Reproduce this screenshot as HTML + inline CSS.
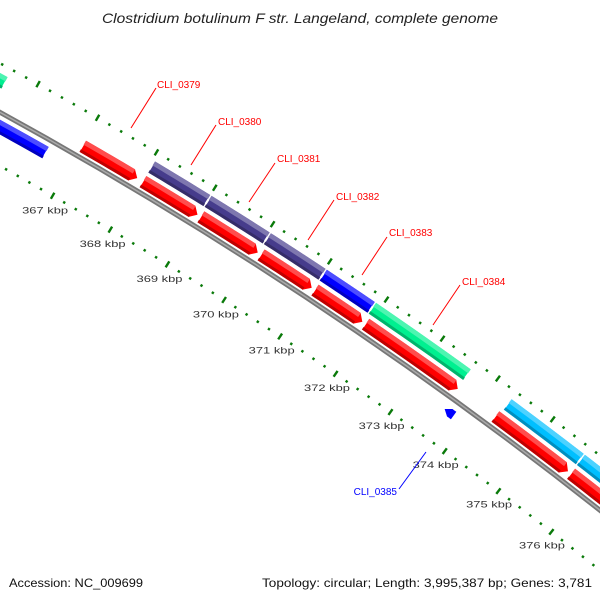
<!DOCTYPE html>
<html><head><meta charset="utf-8"><style>
html,body{margin:0;padding:0;background:#fff;width:600px;height:600px;overflow:hidden}
svg{display:block}
text{font-family:"Liberation Sans","DejaVu Sans",sans-serif}
</style></head><body>
<svg id="map" width="600" height="600" viewBox="0 0 600 600" xmlns="http://www.w3.org/2000/svg">
<rect width="600" height="600" fill="#fff"/>
<g id="rings"></g>
<text x="102" y="23" font-size="14" font-style="italic" fill="#222" textLength="396" lengthAdjust="spacingAndGlyphs">Clostridium botulinum F str. Langeland, complete genome</text>
<text x="9" y="587" font-size="12" fill="#111" textLength="134" lengthAdjust="spacingAndGlyphs">Accession: NC_009699</text>
<text x="262" y="587" font-size="12" fill="#111" textLength="330" lengthAdjust="spacingAndGlyphs">Topology: circular; Length: 3,995,387 bp; Genes: 3,781</text>
<g>
<line x1="131" y1="128" x2="156" y2="88" stroke="#f00" stroke-width="1"/>
<text x="157" y="88" font-size="10" fill="#f00">CLI_0379</text>
<line x1="191" y1="165" x2="216" y2="125" stroke="#f00" stroke-width="1"/>
<text x="218" y="125" font-size="10" fill="#f00">CLI_0380</text>
<line x1="249" y1="202" x2="275" y2="163" stroke="#f00" stroke-width="1"/>
<text x="277" y="162" font-size="10" fill="#f00">CLI_0381</text>
<line x1="308" y1="240" x2="334" y2="200" stroke="#f00" stroke-width="1"/>
<text x="336" y="200" font-size="10" fill="#f00">CLI_0382</text>
<line x1="362" y1="275" x2="387" y2="237" stroke="#f00" stroke-width="1"/>
<text x="389" y="236" font-size="10" fill="#f00">CLI_0383</text>
<line x1="433" y1="325" x2="460" y2="285" stroke="#f00" stroke-width="1"/>
<text x="462" y="285" font-size="10" fill="#f00">CLI_0384</text>
<line x1="426" y1="452" x2="399" y2="489" stroke="#00f" stroke-width="1"/>
<text x="397" y="495" text-anchor="end" font-size="10" fill="#00f">CLI_0385</text>
</g>
</svg>
<script>
// gene data (kbp)
const geneStarts = [365.0, 367.02, 368.05, 369.05, 370.1, 371.05, 371.95, 374.3, 375.7, 364.0, 368.05, 369.02, 370.05, 371.03, 371.9, 374.34, 375.69, 373.62];
const geneEnds   = [366.59, 367.96, 369.0, 370.05, 371.0, 371.9, 373.62, 375.65, 377.5, 365.56, 369.0, 370.03, 371.01, 371.88, 373.6, 375.67, 377.5, 373.8];
const geneRings  = [-1, 1, 1, 1, 1, 1, 1, 1, 1, 2, 2, 2, 2, 2, 2, 2, 2, -1];
const geneStrand = [-1, 1, 1, 1, 1, 1, 1, 1, 1, 0, 0, 0, 0, 0, 0, 0, 0, -1];
const geneColors = ["#0000ff","#ff0000","#ff0000","#ff0000","#ff0000","#ff0000","#ff0000","#ff0000","#ff0000","#00ee90","#463c8c","#463c8c","#463c8c","#0000ff","#00f090","#00bfff","#00bfff","#0000ff"];
const tickLabels = ["367 kbp","368 kbp","369 kbp","370 kbp","371 kbp","372 kbp","373 kbp","374 kbp","375 kbp","376 kbp"];
const tickLabelKbp = [367,368,369,370,371,372,373,374,375,376];

const NS="http://www.w3.org/2000/svg";
const CX=-2082, CY=3902, R=4324, A0=-60.06, DEG=0.896;
function ang(k){return (A0+(k-367)*DEG)*Math.PI/180;}
function pt(k,r){const a=ang(k);return [CX+r*Math.cos(a), CY+r*Math.sin(a)];}
const g=document.getElementById('rings');
function mk(tag,attrs){const e=document.createElementNS(NS,tag);for(const k in attrs)e.setAttribute(k,attrs[k]);g.appendChild(e);return e;}
function arcPath(k0,k1,r){let s="";const n=20;for(let i=0;i<=n;i++){const p=pt(k0+(k1-k0)*i/n,r);s+=(i?"L":"M")+p[0].toFixed(2)+" "+p[1].toFixed(2);}return s;}

// backbone
let bb=mk('path',{d:arcPath(362,380,R),fill:'none',stroke:'#777',"stroke-width":5});


let bb2=mk('path',{d:arcPath(362,380,R),fill:'none',stroke:'#aaa',"stroke-width":1.5});



// tick rings
function tickRing(rc,name){
  for(let i=0;i<=90;i++){
    const k=362+i*0.2;
    const major=(i%5===0);
    const len=major?7:2.5;
    const a=pt(k,rc-len/2), b=pt(k,rc+len/2);
    const t=mk('line',{x1:a[0],y1:a[1],x2:b[0],y2:b[1],stroke:'#0a7a0a',"stroke-width":2.4});
    
    
  }
}
tickRing(R-47,'inner-ruler');
tickRing(R+43,'outer-ruler');

// tick labels
tickLabelKbp.forEach((k,i)=>{
  const p=pt(k,R-64);
  const t=mk('text',{x:(p[0]-23+1).toFixed(1),y:(p[1]+3).toFixed(1),"font-size":"9.5",fill:"#333",textLength:"46",lengthAdjust:"spacingAndGlyphs"});
  t.textContent=tickLabels[i];
  
  
});

// genes
const ringR={'-1':R-13,'1':R+11,'2':R+28};
function genePoly(s,e,rc,h,strand){
  const head=0.1; const pts=[];
  let a=s,b=e;
  if(strand===1) b=Math.max(s,e-head);
  if(strand===-1) a=Math.min(e,s+head);
  const n=12;
  for(let i=0;i<=n;i++)pts.push(pt(a+(b-a)*i/n,rc+h));
  if(strand===1)pts.push(pt(e,rc));
  for(let i=n;i>=0;i--)pts.push(pt(a+(b-a)*i/n,rc-h));
  if(strand===-1)pts.push(pt(s,rc));
  return pts.map(p=>p[0].toFixed(2)+","+p[1].toFixed(2)).join(" ");
}
function shade(c,f){const n=parseInt(c.slice(1),16);let r=n>>16,gg=(n>>8)&255,b=n&255;
  if(f>0){r+= (255-r)*f;gg+=(255-gg)*f;b+=(255-b)*f;}else{r*=1+f;gg*=1+f;b*=1+f;}
  return "rgb("+Math.round(r)+","+Math.round(gg)+","+Math.round(b)+")";}
geneStarts.forEach((s,i)=>{
  const e=geneEnds[i], rc=ringR[geneRings[i]], st=geneStrand[i], c=geneColors[i];
  const h=(i===17)?5:6.8;
  const p=mk('polygon',{points:genePoly(s,e,rc,h,st),fill:c,stroke:'#fff',"stroke-width":0.8});
  
  
  if(i!==17){
    const hs=st===-1?s+0.1:s, he=st===1?e-0.1:e;
    const top=mk('polygon',{points:genePoly(hs,he,rc+h*0.6,h*0.35,0),fill:shade(c,0.3)});
    
    
    const bot=mk('polygon',{points:genePoly(hs,he,rc-h*0.75,h*0.22,0),fill:shade(c,-0.25)});
    
    
  }
});
</script>
</body></html>
